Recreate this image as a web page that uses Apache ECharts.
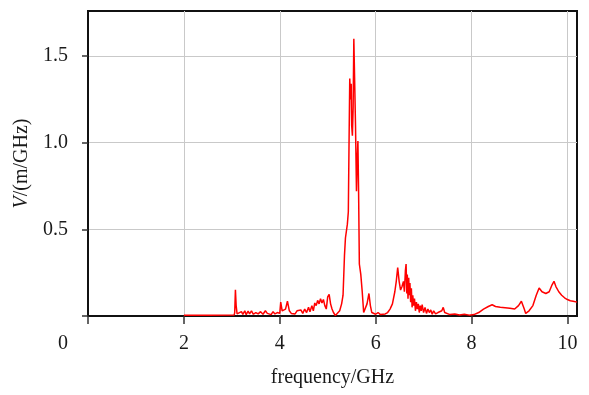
<!DOCTYPE html>
<html>
<head>
<meta charset="utf-8">
<script src="https://cdn.jsdelivr.net/npm/echarts@6/dist/echarts.min.js"></script>
<style>
  html, body { margin: 0; padding: 0; background: #fff; }
  #chart { width: 589px; height: 395px; }
</style>
</head>
<body>
<div id="chart"></div>
<script>
// Spectrum samples: frequency in GHz
const frequency = [
  2.0, 2.5, 3.05, 3.06, 3.075, 3.09, 3.11, 3.15,
  3.2, 3.23, 3.27, 3.3, 3.34, 3.37, 3.41, 3.45, 3.5, 3.55, 3.6, 3.65, 3.7, 3.74, 3.78, 3.82, 3.86, 3.9, 3.95, 3.98,
  4.0, 4.02, 4.05, 4.08, 4.12, 4.16, 4.2, 4.24, 4.28, 4.32, 4.36, 4.4, 4.44, 4.48, 4.52, 4.56, 4.6, 4.63, 4.67, 4.7,
  4.73, 4.76, 4.79, 4.82, 4.85, 4.88, 4.91, 4.94, 4.97, 5.0, 5.03, 5.06, 5.09, 5.12, 5.16, 5.2,
  5.25, 5.29, 5.32, 5.35, 5.37, 5.41, 5.43, 5.445, 5.46, 5.475, 5.49, 5.5, 5.515, 5.53, 5.545, 5.565, 5.58, 5.6,
  5.615, 5.63, 5.645, 5.66, 5.69, 5.72, 5.75, 5.78, 5.82, 5.86, 5.89, 5.92, 5.96, 6.0, 6.05, 6.1, 6.15, 6.2, 6.25,
  6.3, 6.35, 6.4, 6.43, 6.46, 6.49, 6.52, 6.55, 6.58, 6.6, 6.62, 6.635, 6.65, 6.66, 6.675, 6.69, 6.7, 6.715, 6.73,
  6.745, 6.76, 6.775, 6.79, 6.81, 6.83, 6.85, 6.87, 6.89, 6.91, 6.93, 6.95, 6.97, 7.0, 7.03, 7.06, 7.09, 7.12, 7.15,
  7.18, 7.21, 7.25, 7.3, 7.34, 7.38, 7.41, 7.44, 7.48, 7.55, 7.65, 7.75, 7.85, 7.95, 8.05, 8.15, 8.25, 8.35, 8.43,
  8.5, 8.6, 8.7, 8.8, 8.9, 8.98, 9.04, 9.07, 9.1, 9.13, 9.2, 9.28, 9.35, 9.41, 9.47, 9.55, 9.62, 9.68, 9.72, 9.76,
  9.82, 9.88, 9.94, 10.0, 10.06, 10.12, 10.2
];

// Spectral density V in m/GHz at each frequency above
const density = [
  0.005, 0.005, 0.006, 0.02, 0.152, 0.06, 0.012, 0.008,
  0.025, 0.01, 0.03, 0.008, 0.028, 0.012, 0.03, 0.01, 0.02, 0.012, 0.025, 0.01, 0.03, 0.015, 0.022, 0.008, 0.025, 0.012, 0.02, 0.01,
  0.015, 0.08, 0.03, 0.02, 0.04, 0.085, 0.03, 0.015, 0.025, 0.012, 0.03, 0.02, 0.035, 0.015, 0.04, 0.02, 0.05, 0.025, 0.06, 0.03,
  0.075, 0.06, 0.09, 0.07, 0.1, 0.075, 0.095, 0.06, 0.04, 0.11, 0.125, 0.07, 0.04, 0.02, 0.003, 0.002,
  0.03, 0.07, 0.12, 0.35, 0.45, 0.53, 0.6, 1.0, 1.37, 1.25, 1.34, 1.1, 1.04, 1.2, 1.6, 1.6, 1.1, 0.72,
  0.9, 1.01, 0.7, 0.3, 0.24, 0.14, 0.02, 0.01, 0.07, 0.13, 0.06, 0.02, 0.03, 0.01, 0.02, 0.008, 0.01, 0.012, 0.02,
  0.04, 0.07, 0.14, 0.2, 0.28, 0.2, 0.15, 0.17, 0.2, 0.14, 0.26, 0.3, 0.13, 0.24, 0.1, 0.22, 0.12, 0.19, 0.08,
  0.16, 0.05, 0.12, 0.06, 0.1, 0.03, 0.08, 0.04, 0.07, 0.02, 0.06, 0.03, 0.065, 0.02, 0.05, 0.015, 0.04, 0.02, 0.035,
  0.01, 0.03, 0.012, 0.02, 0.01, 0.03, 0.05, 0.02, 0.01, 0.008, 0.012, 0.006, 0.01, 0.005, 0.008, 0.02, 0.04, 0.055, 0.065,
  0.055, 0.05, 0.048, 0.045, 0.04, 0.06, 0.085, 0.095, 0.04, 0.015, 0.03, 0.06, 0.12, 0.162, 0.14, 0.13, 0.14, 0.18, 0.2, 0.17,
  0.14, 0.12, 0.105, 0.095, 0.088, 0.085, 0.08
];

const xTicks = [0, 2, 4, 6, 8, 10];
const yTicks = [0, 0.5, 1.0, 1.5];

const FONT = '"Liberation Serif", "Times New Roman", serif';
const TEXT = '#1a1a1a';

const chart = echarts.init(document.getElementById('chart'), null, { renderer: 'canvas' });

chart.setOption({
  animation: false,
  backgroundColor: '#ffffff',
  grid: {
    left: 88, right: 12, top: 11, bottom: 79,
    show: true,
    borderColor: '#111',
    borderWidth: 2,
    backgroundColor: 'transparent'
  },
  xAxis: {
    type: 'value',
    min: 0,
    max: 10.2,
    interval: 2,
    name: 'frequency/GHz',
    nameLocation: 'middle',
    nameGap: 52,
    nameTextStyle: { fontFamily: FONT, fontSize: 20, color: TEXT },
    axisLine: { show: true, onZero: false, lineStyle: { color: '#111', width: 2 } },
    axisTick: { show: true, length: 8, customValues: xTicks, lineStyle: { color: '#333', width: 1.5 } },
    axisLabel: {
      customValues: xTicks,
      margin: 18,
      fontFamily: FONT, fontSize: 20, color: TEXT,
      formatter: v => v === 0 ? '{o|0}' : String(v),
      rich: { o: { fontFamily: FONT, fontSize: 20, color: TEXT, padding: [0, 50, 0, 0] } }
    },
    splitLine: { show: true, lineStyle: { color: '#c9c9c9', width: 1 } }
  },
  yAxis: {
    type: 'value',
    min: 0,
    max: 1.76,
    interval: 0.5,
    name: '{i|V}/(m/GHz)',
    nameLocation: 'middle',
    nameGap: 56,
    nameTextStyle: {
      fontFamily: FONT, fontSize: 20, color: TEXT,
      rich: { i: { fontFamily: FONT, fontSize: 20, fontStyle: 'italic', color: TEXT } }
    },
    axisLine: { show: true, onZero: false, lineStyle: { color: '#111', width: 2 } },
    axisTick: { show: true, length: 6, customValues: yTicks, lineStyle: { color: '#333', width: 1.5 } },
    axisLabel: {
      customValues: [0.5, 1.0, 1.5],
      margin: 20,
      fontFamily: FONT, fontSize: 20, color: TEXT,
      formatter: v => v.toFixed(1)
    },
    splitLine: { show: true, lineStyle: { color: '#c9c9c9', width: 1 } }
  },
  series: [{
    type: 'line',
    data: frequency.map((f, i) => [f, density[i]]),
    showSymbol: false,
    symbol: 'none',
    clip: true,
    lineStyle: { color: '#ff0000', width: 1.5 },
    z: 3
  }]
});
</script>
</body>
</html>
